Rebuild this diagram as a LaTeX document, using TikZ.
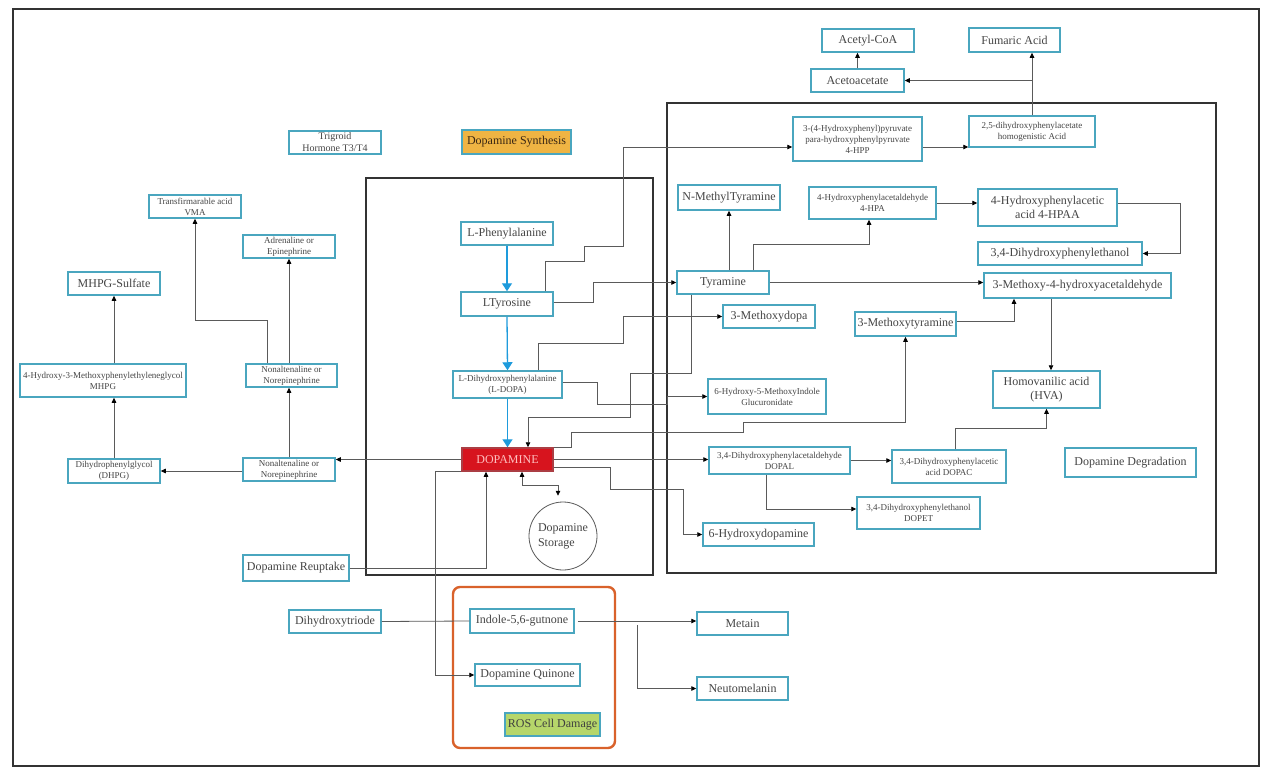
\documentclass[tikz,border=0pt]{standalone}
\usepackage{fontspec}
\setmainfont{Liberation Serif}
\usetikzlibrary{arrows.meta,calc}
\definecolor{teal1}{HTML}{4AA6BF}
\definecolor{txt}{HTML}{454545}
\definecolor{ln}{HTML}{5A5A5A}
\definecolor{bluearr}{HTML}{1E9BDC}
\definecolor{dred}{HTML}{D7141E}
\definecolor{orng}{HTML}{D9622B}
\definecolor{synthc}{HTML}{EFB443}
\definecolor{rosg}{HTML}{B6D66A}
\tikzset{
 bx/.style={draw=teal1, fill=white, line width=1.5pt, inner sep=0pt, text=txt, align=center, font=\fontsize{12}{14.5}\selectfont},
 sm/.style={font=\fontsize{9}{11}\selectfont},
 sz/.style 2 args={minimum width=#1pt, minimum height=#2pt},
 arr/.style={draw=ln, line width=0.8pt, -{Triangle[length=5pt,width=4.5pt,color=black]}},
 arrtwo/.style={draw=ln, line width=0.8pt, {Triangle[length=5pt,width=4.5pt,color=black]}-{Triangle[length=5pt,width=4.5pt,color=black]}},
 plain/.style={draw=ln, line width=0.8pt},
 barr/.style={draw=bluearr, line width=1.3pt, -{Triangle[length=8pt,width=10pt]}},
 frame/.style={draw=black!80, line width=1.3pt},
}
\begin{document}
\begin{tikzpicture}[x=1pt,y=-1pt]
\useasboundingbox (0,0) rectangle (1280,771);
\fill[white] (0,0) rectangle (1280,771);
% frames
\draw[frame] (13,9) rectangle (1259,766);
\draw[frame] (366,178) rectangle (653,575);
\draw[frame] (667,103) rectangle (1216,573);
\draw[orng, line width=2.4pt, rounded corners=7pt] (453,587) rectangle (615,748);

% left side
\node[bx,sz={92}{23},font=\fontsize{10}{12}\selectfont] (trig) at (335,142.5) {Trigroid\\Hormone T3/T4};
\node[bx,sz={109}{24},fill=synthc,text=black!70!brown] (synthlabel) at (516.5,142) {Dopamine Synthesis};
\node[bx,sm,sz={92}{23}] (vma) at (195,206.5) {Transfirmarable acid\\VMA};
\node[bx,sm,sz={92}{23}] (adren) at (289,246.5) {Adrenaline or\\Epinephrine};
\node[bx,sz={92}{23}] (mhpgs) at (114,283.5) {MHPG-Sulfate};
\node[bx,sm,sz={166}{33}] (mhpg) at (103,380.5) {4-Hydroxy-3-Methoxyphenylethyleneglycol\\MHPG};
\node[bx,sm,sz={91}{23}] (nor1) at (291.5,375.5) {Nonaltenaline or\\Norepinephrine};
\node[bx,sm,sz={92}{24}] (dhpg) at (114,471) {Dihydrophenylglycol\\(DHPG)};
\node[bx,sm,sz={92}{23}] (nor2) at (289,469.5) {Nonaltenaline or\\Norepinephrine};

% synthesis
\node[bx,sz={92}{23}] (phe) at (507,233.5) {L-Phenylalanine};
\node[bx,sz={92}{24}] (tyr) at (507,304) {LTyrosine};
\node[bx,sm,sz={109}{27}] (dopa) at (507.5,384.5) {L-Dihydroxyphenylalanine\\(L-DOPA)};
\node[bx,sz={91}{23},draw=dred!70!black!80,fill=dred,text=red!25] (dopamine) at (507.5,459.5) {DOPAMINE};
\node[circle,draw=ln,line width=0.8pt,minimum size=68pt,inner sep=0pt,align=left,text=txt,font=\fontsize{12}{15}\selectfont] (storage) at (563,536) {Dopamine\\Storage};
\node[bx,sz={106}{26}] (reuptake) at (296,568) {Dopamine Reuptake};
\node[bx,sz={92}{23}] (dhtri) at (335,621.5) {Dihydroxytriode};
\node[bx,sz={104}{24}] (indole) at (522,621) {Indole-5,6-gutnone};
\node[bx,sz={105}{22}] (quinone) at (527.5,675) {Dopamine Quinone};
\node[bx,sz={95}{23},fill=rosg,text=black!75] (ros) at (552.5,724.5) {ROS Cell Damage};
\node[bx,sz={91}{23}] (metain) at (742.5,623.5) {Metain};
\node[bx,sz={91}{23}] (neuto) at (742.5,688.5) {Neutomelanin};

% degradation
\node[bx,sz={92}{23}] (acetyl) at (868,40.5) {Acetyl-CoA};
\node[bx,sz={91}{24}] (fumaric) at (1014.5,40) {Fumaric Acid};
\node[bx,sz={93}{23}] (acetoac) at (857.5,80.5) {Acetoacetate};
\node[bx,sm,sz={129}{44}] (hpp) at (857.5,139) {3-(4-Hydroxyphenyl)pyruvate\\para-hydroxyphenylpyruvate\\4-HPP};
\node[bx,sm,sz={126}{31}] (homog) at (1032,131.5) {2,5-dihydroxyphenylacetate\\homogenistic Acid};
\node[bx,sz={102}{25}] (nmt) at (729,197.5) {N-MethylTyramine};
\node[bx,sm,sz={127}{32}] (hpa) at (872.5,203) {4-Hydroxyphenylacetaldehyde\\4-HPA};
\node[bx,sz={139}{37}] (hpaa) at (1047.5,207.5) {4-Hydroxyphenylacetic\\acid 4-HPAA};
\node[bx,sz={164}{23}] (dopettwo) at (1060,253.5) {3,4-Dihydroxyphenylethanol};
\node[bx,sz={92}{23}] (tyramine) at (723,282.5) {Tyramine};
\node[bx,sz={187}{25}] (mfha) at (1077.5,285.5) {3-Methoxy-4-hydroxyacetaldehyde};
\node[bx,sz={92}{23}] (mdopa) at (769,316.5) {3-Methoxydopa};
\node[bx,sz={101}{24}] (mtyr) at (905.5,324) {3-Methoxytyramine};
\node[bx,sz={107}{37}] (hva) at (1046.5,389.5) {Homovanilic acid\\(HVA)};
\node[bx,sm,sz={118}{35}] (gluc) at (767,396.5) {6-Hydroxy-5-MethoxyIndole\\Glucuronidate};
\node[bx,sm,sz={141}{27}] (dopal) at (779.5,460.5) {3,4-Dihydroxyphenylacetaldehyde\\DOPAL};
\node[bx,sm,sz={114}{33}] (dopac) at (949,466.5) {3,4-Dihydroxyphenylacetic\\acid DOPAC};
\node[bx,sm,sz={123}{32}] (dopet) at (918.5,513) {3,4-Dihydroxyphenylethanol\\DOPET};
\node[bx,sz={111}{23}] (ohda) at (758.5,534.5) {6-Hydroxydopamine};
\node[bx,sz={131}{29}] (degr) at (1130.5,462.5) {Dopamine Degradation};

% left connectors
\draw[arr] (dhpg.north) -- (dhpg.north |- mhpg.south);
\draw[arr] (mhpg.north -| mhpgs.south) -- (mhpgs.south);
\draw[arr] (nor2.west |- dhpg.east) -- (dhpg.east);
\draw[arr] (nor2.north) -- (nor2.north |- nor1.south);
\draw[arr] (adren.south |- nor1.north) -- (adren.south);
\draw[arr] ([xshift=-24]nor1.north) -- ++(0,-43) -| (vma.south);
\draw[arr] (dopamine.west) -- (dopamine.west -| nor2.east);

% blue synthesis
\draw[barr] (phe.south) -- (tyr.north);
\draw[barr] (tyr.south) -- (dopa.north);
\draw[barr] (dopa.south) -- (dopamine.north);

% synthesis outputs
\draw[arr] ([xshift=38]tyr.north) -- ++(0,-30) -- ++(39,0) -- ++(0,-15) -- ++(39,0) |- ([yshift=-8]hpp.west);
\draw[arr] ([yshift=2]tyr.east) -- ++(40,0) |- (tyramine.west);
\draw[arr] ([xshift=30.5]dopa.north) -- ++(0,-27) -- ++(85,0) |- (mdopa.west);
\draw[arr] ([yshift=2.5]dopa.east) -- ++(35,0) -- ++(0,22) -- ++(70,0) |- (gluc.west);
\draw[arr] ([xshift=-32]tyramine.south) -- ++(0,79) -- ++(-61,0) -- ++(0,44) -| ([xshift=20.5]dopamine.north);
\draw[arr] (dopamine.north east) -- ++(18,0) -- ++(0,-15) -- ++(172,0) -- ++(0,-10) -| (mtyr.south);
\draw[arr] (dopamine.east) -- (dopamine.east -| dopal.west);
\draw[arr] ([yshift=-7.5]dopamine.east) -- ++(57,0) -- ++(0,22) -- ++(73,0) |- (ohda.west);
\draw[arr] (dopamine.south west) -- ++(-26,0) |- (quinone.west);
\draw[arr] (reuptake.east) -| ([xshift=-21.5]dopamine.south);
\draw[arrtwo] ([xshift=14.5]dopamine.south) -- ++(0,14) -- ++(36,0) -- ++(0,10);
\draw[plain] (dhtri.east) -- (indole.east -| indole.west);
\draw[arr] ([xshift=3]indole.east) -- (indole.east -| metain.west);
\draw[arr] ([xshift=63,yshift=-4]indole.east) |- (neuto.west);

% degradation connectors
\draw[arr] ([yshift=-8]hpp.east) -- ([yshift=-8]hpp.east -| homog.west);
\draw[arr] (homog.north) -- (homog.north |- fumaric.south);
\draw[arr] (homog.north |- acetoac.east) -- (acetoac.east);
\draw[arr] (acetoac.north) -- (acetoac.north |- acetyl.south);
\draw[arr] (nmt.south |- tyramine.north) -- (nmt.south);
\draw[arr] ([xshift=30]tyramine.north) -- ++(0,-26) -| ([xshift=-3.5]hpa.south);
\draw[arr] (hpa.east) -- (hpa.east -| hpaa.west);
\draw[arr] ([yshift=4.5]hpaa.east) -- ++(63,0) |- (dopettwo.east);
\draw[arr] (tyramine.east) -- (tyramine.east -| mfha.west);
\draw[arr] ([yshift=3]mtyr.east) -| ([xshift=-63.5]mfha.south);
\draw[arr] ([xshift=-26.5]mfha.south) -- ([xshift=-26.5]mfha.south |- hva.north);
\draw[arr] (dopal.east) -- (dopal.east -| dopac.west);
\draw[arr] ([xshift=6]dopac.north) -- ++(0,-21) -| (hva.south);
\draw[arr] ([xshift=-13.5]dopal.south) |- ([yshift=4]dopet.west);
\end{tikzpicture}
\end{document}
